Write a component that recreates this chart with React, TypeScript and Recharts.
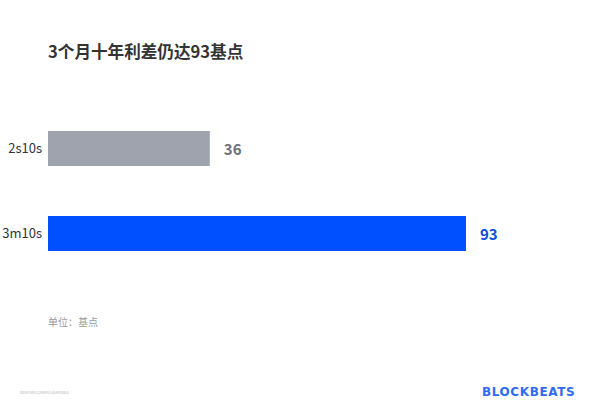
import { BarChart, Bar, XAxis, YAxis, Cell, LabelList } from "recharts";

const categories = ["2s10s", "3m10s"];
const spreads = [36, 93];
const barColors = ["#9ea3ad", "#0050ff"];
const labelColors = ["#6b7079", "#0a4fd6"];

const chartData = categories.map((name, i) => ({ name, value: spreads[i] }));

const cjk = '"Noto Sans CJK SC", "Noto Sans", sans-serif';

function ValueLabel(props: any) {
  const { x, y, width, height, value, index } = props;
  return (
    <text
      x={x + width + 14}
      y={y + height / 2}
      dominantBaseline="central"
      fill={labelColors[index]}
      fontSize={15}
      fontWeight={700}
      fontFamily={cjk}
    >
      {value}
    </text>
  );
}

export default function App() {
  return (
    <div
      style={{
        position: "absolute",
        left: 0,
        top: 0,
        width: 600,
        height: 414,
        background: "#ffffff",
        fontFamily: cjk,
      }}
    >
      <div
        style={{
          position: "absolute",
          left: 48,
          top: 39,
          fontSize: 16.6,
          fontWeight: 700,
          color: "#333333",
          lineHeight: "24px",
        }}
      >
        3个月十年利差仍达93基点
      </div>

      <BarChart
        width={600}
        height={414}
        data={chartData}
        layout="vertical"
        margin={{ top: 106, right: 134, bottom: 138, left: 0 }}
      >
        <XAxis type="number" domain={[0, 93]} hide />
        <YAxis
          type="category"
          dataKey="name"
          width={48}
          tickLine={false}
          axisLine={false}
          tickSize={4}
          tickMargin={2}
          tick={{ fill: "#333333", fontSize: 13, fontFamily: cjk }}
        />
        <Bar dataKey="value" barSize={35} isAnimationActive={false}>
          {chartData.map((d, i) => (
            <Cell key={d.name} fill={barColors[i]} />
          ))}
          <LabelList dataKey="value" content={ValueLabel} />
        </Bar>
      </BarChart>

      <div
        style={{
          position: "absolute",
          left: 48,
          top: 314,
          fontSize: 10,
          color: "#9a9a9a",
        }}
      >
        单位：基点
      </div>

      <div
        style={{
          position: "absolute",
          left: 20,
          top: 389,
          fontSize: 4,
          color: "#b8b8b8",
        }}
      >
        BEEFIRECOMMULBAIYBBO
      </div>

      <div
        style={{
          position: "absolute",
          left: 482,
          top: 385,
          fontSize: 12,
          fontWeight: 700,
          letterSpacing: 0.6,
          color: "#2f6bf0",
          fontFamily: '"DejaVu Sans", sans-serif',
        }}
      >
        BLOCKBEATS
      </div>
    </div>
  );
}
